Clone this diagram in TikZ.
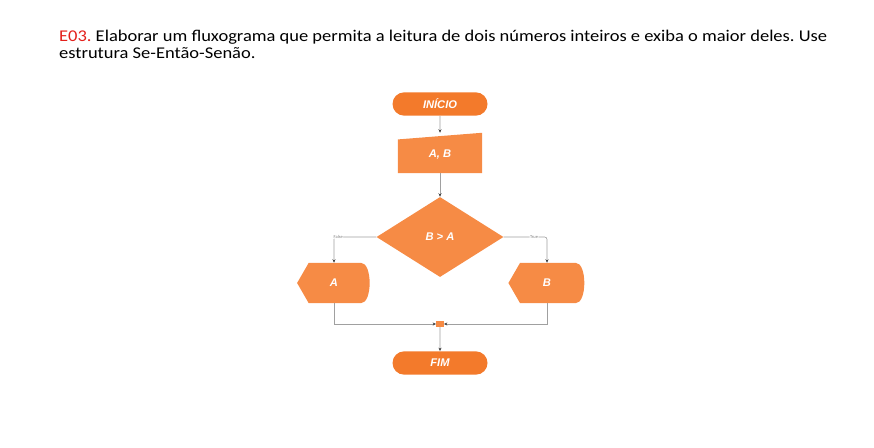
\documentclass[tikz,border=0pt]{standalone}
\usepackage{fontspec}
\setmainfont{Carlito}
\newfontfamily\shapefont{Liberation Sans}
\usetikzlibrary{arrows.meta}
\usetikzlibrary{shapes.geometric,shapes.misc}
\usetikzlibrary{positioning}
\frenchspacing

\definecolor{flowOrange}{HTML}{F68B45}
\definecolor{termOrange}{HTML}{F37A2B}
\definecolor{lineGray}{HTML}{A0A0A0}
\definecolor{tipGray}{HTML}{404040}
\definecolor{titleRed}{HTML}{E3201B}

\tikzset{
    shapetext/.style={text=white, font=\shapefont\bfseries\itshape\fontsize{9.5}{10}\selectfont},
    terminal/.style={rounded rectangle, fill=termOrange, shapetext,
        minimum width=2.85cm, minimum height=0.7cm, inner sep=0pt},
    decision/.style={diamond, fill=flowOrange, shapetext, aspect=1.6,
        minimum width=3.81cm, minimum height=2.4cm, inner sep=0pt},
    slot/.style={rectangle, shapetext, inner sep=0pt},
    flowline/.style={draw=lineGray, line width=0.5pt},
    flowarrow/.style={flowline, -{Stealth[length=3pt,width=2.6pt,color=tipGray]}},
    branchlabel/.style={fill=white, text=gray, inner sep=0.5pt,
        font=\fontsize{3.8}{4}\selectfont},
    titletext/.style={anchor=base west, font=\fontsize{14}{16}\selectfont},
}

\begin{document}
\begin{tikzpicture}[x=0.03cm, y=-0.03cm]
    \useasboundingbox (0,0) rectangle (874,447);

    % Enunciado
    \node[titletext] (title1) at (55,41)
        {\scalebox{1.127}[1]{{\color{titleRed}E03.} Elaborar um fluxograma que permita a leitura de dois números inteiros e exiba o maior deles. Use}};
    \node[titletext] (title2) at (55,58.5)
        {\scalebox{1.127}[1]{estrutura Se-Então-Senão.}};

    % Inicio
    \node[terminal] (start) at (440,104) {INÍCIO};

    % Entrada (manual input)
    \node[slot, minimum width=2.52cm, minimum height=1.2cm] (input) at (440,153) {};
    \fill[flowOrange] (input.south west) -- (input.south east) -- (input.north east)
        -- ([yshift=-0.2cm]input.north west) -- cycle;
    \node[shapetext] at ([yshift=-0.05cm]input.center) {A, B};

    % Decisao
    \node[decision] (test) at (440,237) {B > A};

    % Saidas (display)
    \node[slot, minimum width=2.2cm, minimum height=1.2cm] (outA) at (334,283) {};
    \node[slot, minimum width=2.3cm, minimum height=1.2cm] (outB) at (547,283) {};
    \foreach \o in {outA,outB}
        \fill[flowOrange] (\o.west) -- ([xshift=0.35cm]\o.north west)
            -- ([xshift=-0.3cm]\o.north east)
            .. controls ([xshift=0.05cm]\o.north east) and ([xshift=0.05cm]\o.south east)
            .. ([xshift=-0.3cm]\o.south east)
            -- ([xshift=0.35cm]\o.south west) -- cycle;
    \node[shapetext] at (outA.center) {A};
    \node[shapetext] at (outB.center) {B};

    % Juncao e fim
    \node[rectangle, fill=flowOrange, minimum width=0.22cm, minimum height=0.17cm, inner sep=0pt] (join) at (440,324) {};
    \node[terminal] (stop) at (440,363) {FIM};

    % Conexoes
    \draw[flowarrow] (start) -- (input);
    \draw[flowarrow] (input) -- (test);
    \draw[flowarrow, rounded corners=2pt] (test.west) -| node[pos=0.45, branchlabel] {False} (outA.north);
    \draw[flowarrow, rounded corners=2pt] (test.east) -| node[pos=0.35, branchlabel] {True} (outB.north);
    \draw[flowarrow] (outA.south) |- (join.west);
    \draw[flowarrow] (outB.south) |- (join.east);
    \draw[flowarrow] (join) -- (stop);
\end{tikzpicture}
\end{document}
